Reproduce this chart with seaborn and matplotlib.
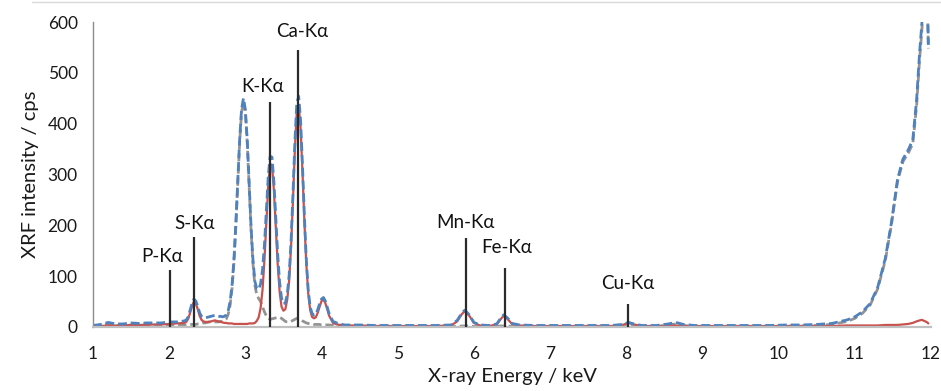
import pandas as pd
import seaborn as sns
import matplotlib.pyplot as plt
from matplotlib.lines import Line2D

# X-ray energy grid (keV)
energy = [
    1.0, 1.1, 1.2, 1.3, 1.4, 1.5, 1.6, 1.7, 1.8, 1.9, 2.0, 2.1,
    2.2, 2.225, 2.25, 2.275, 2.3, 2.325, 2.35, 2.375, 2.4, 2.425,
    2.45, 2.475, 2.5, 2.525, 2.55, 2.575, 2.6, 2.625, 2.65, 2.675,
    2.7, 2.725, 2.75, 2.775, 2.8, 2.825, 2.85, 2.875, 2.9, 2.925,
    2.95, 2.975, 3.0, 3.025, 3.05, 3.075, 3.1, 3.125, 3.15, 3.175,
    3.2, 3.225, 3.25, 3.275, 3.3, 3.325, 3.35, 3.375, 3.4, 3.425,
    3.45, 3.475, 3.5, 3.525, 3.55, 3.575, 3.6, 3.625, 3.65, 3.675,
    3.7, 3.725, 3.75, 3.775, 3.8, 3.825, 3.85, 3.875, 3.9, 3.925,
    3.95, 3.975, 4.0, 4.025, 4.05, 4.075, 4.1, 4.15, 4.2,
    4.3, 4.5, 4.7, 4.9, 5.1, 5.3, 5.5, 5.7,
    5.78, 5.84, 5.88, 5.94, 6.0,
    6.08, 6.2, 6.3, 6.35, 6.39, 6.44, 6.5,
    6.6, 6.8, 7.0, 7.2, 7.4, 7.6, 7.8,
    7.95, 8.03, 8.1,
    8.2, 8.4, 8.55, 8.65, 8.75, 8.9,
    9.1, 9.3, 9.5, 9.7, 9.9, 10.1, 10.3, 10.5, 10.7, 10.9,
    11.0, 11.1, 11.2, 11.3, 11.4, 11.48, 11.56, 11.63, 11.7, 11.76,
    11.81, 11.85, 11.88, 11.91, 11.94, 11.965,
]

# blue dashed spectrum
blue_cps = [
    3, 5, 9, 6, 6, 8, 7, 8, 8, 8, 10, 10,
    12, 14, 20, 33, 46, 55, 51, 41, 28, 21,
    19, 18, 19, 20, 21, 22, 23, 22, 21, 21,
    20, 21, 24, 32, 50, 82, 132, 203, 286, 368,
    428, 450, 428, 368, 282, 197, 132, 90, 75, 74,
    85, 112, 160, 226, 295, 336, 334, 286, 213, 142,
    88, 57, 46, 47, 64, 102, 169, 262, 364, 440,
    454, 407, 318, 218, 133, 74, 40, 27, 23, 25,
    34, 46, 55, 58, 51, 39, 26, 11, 8,
    4, 4, 3, 3, 3, 3, 3, 4,
    13, 27, 33, 24, 9,
    4, 3, 6, 17, 24, 18, 7,
    4, 3, 3, 3, 3, 3, 3,
    5, 9, 6,
    3, 3, 6, 9, 5, 3,
    3, 3, 3, 3, 3, 4, 4, 5, 7, 14,
    20, 30, 46, 78, 135, 205, 290, 330, 348, 368,
    445, 540, 598, 690, 730, 555,
]

# red solid spectrum
red_cps = [
    1, 2, 3, 3, 3, 4, 4, 4, 5, 5, 6, 7,
    8, 10, 16, 28, 41, 50, 46, 35, 22, 14,
    11, 10, 10, 10, 11, 12, 13, 12, 11, 10,
    9, 8, 8, 7, 7, 7, 6, 6, 6, 6,
    6, 6, 6, 6, 7, 7, 7, 8, 12, 19,
    37, 72, 130, 204, 277, 321, 318, 269, 195, 123,
    69, 40, 32, 35, 54, 92, 158, 249, 349, 423,
    437, 392, 306, 208, 125, 67, 34, 20, 17, 19,
    28, 40, 51, 54, 47, 35, 22, 8, 5,
    3, 3, 2, 2, 2, 2, 2, 3,
    11, 25, 31, 22, 8,
    3, 2, 5, 15, 22, 16, 6,
    3, 2, 2, 2, 2, 2, 2,
    4, 8, 5,
    2, 2, 2, 3, 2, 2,
    2, 2, 2, 2, 2, 2, 2, 2, 2, 3,
    3, 3, 3, 3, 4, 4, 4, 5, 6, 8,
    11, 13, 14, 12, 10, 7,
]

# grey dashed spectrum
grey_cps = [
    2, 3, 6, 3, 3, 4, 3, 4, 3, 3, 4, 3,
    4, 4, 4, 5, 5, 5, 5, 6, 6, 7,
    8, 8, 9, 10, 10, 10, 10, 10, 10, 11,
    11, 13, 16, 25, 43, 75, 126, 197, 280, 362,
    422, 444, 422, 362, 275, 190, 125, 82, 63, 56,
    50, 40, 30, 22, 18, 15, 16, 17, 18, 19,
    19, 17, 14, 11, 10, 10, 11, 13, 15, 17,
    17, 15, 12, 10, 8, 7, 6, 6, 5, 5,
    5, 5, 4, 4, 4, 4, 4, 3, 3,
    1, 1, 1, 1, 1, 1, 1, 1,
    1, 2, 2, 2, 1,
    1, 1, 1, 2, 2, 2, 1,
    1, 1, 1, 1, 1, 1, 1,
    1, 1, 1,
    1, 1, 4, 6, 3, 1,
    1, 1, 1, 1, 1, 2, 2, 3, 5, 11,
    17, 27, 43, 75, 131, 201, 286, 325, 342, 360,
    434, 527, 584, 678, 720, 548,
]

# emission line markers
line_names = ['P-Kα', 'S-Kα', 'K-Kα', 'Ca-Kα', 'Mn-Kα', 'Fe-Kα', 'Cu-Kα']
line_energy = [2.01, 2.33, 3.33, 3.69, 5.895, 6.405, 8.025]
line_height = [112, 177, 442, 545, 175, 116, 45]

# label offsets in points (dx, dy) from top of each marker
label_offsets = [(-6, 9.5), (0, 9.5), (-6, 11.5), (3, 13), (0, 11.5), (1.5, 14.5), (0, 15)]

df = pd.DataFrame({'energy': energy, 'blue': blue_cps, 'red': red_cps, 'grey': grey_cps})

sns.set_style('white')
plt.rcParams['font.family'] = ['Lato', 'Open Sans', 'DejaVu Sans']

fig = plt.figure(figsize=(9.41, 3.91), dpi=100)
ax = fig.add_axes([0.0988, 0.1637, 0.8906, 0.780])

sns.lineplot(data=df, x='energy', y='grey', ax=ax, color='#939393', lw=2.0,
             linestyle=(0, (3, 1.4)), estimator=None, sort=False)
sns.lineplot(data=df, x='energy', y='red', ax=ax, color='#c8504d', lw=1.6,
             estimator=None, sort=False)
sns.lineplot(data=df, x='energy', y='blue', ax=ax, color='#4f81bd', lw=2.0,
             linestyle=(0, (3.2, 1.4)), estimator=None, sort=False)

ax.vlines(line_energy, 0, line_height, colors='#2b2b2b', lw=1.6, zorder=5)
for name, x, h, (dx, dy) in zip(line_names, line_energy, line_height, label_offsets):
    ax.annotate(name, (x, h), xytext=(dx, dy), textcoords='offset points',
                ha='center', va='center', fontsize=13.5, color='#111111')

ax.set_xlim(1, 12)
ax.set_ylim(0, 600)
ax.set_xticks(range(1, 13))
ax.set_yticks(range(0, 601, 100))

for side in ['top', 'right']:
    ax.spines[side].set_visible(False)
ax.spines['left'].set_color('#8c8c8c')
ax.spines['left'].set_linewidth(1.0)
ax.spines['bottom'].set_color('#c0c0c0')
ax.spines['bottom'].set_linewidth(1.6)

ax.tick_params(axis='both', direction='out', length=4, width=1, color='#8c8c8c',
               labelsize=12.5, labelcolor='#1a1a1a')
ax.tick_params(axis='y', pad=7)
ax.tick_params(axis='x', pad=10)

ax.set_xlabel('X-ray Energy / keV', fontsize=14.5, color='#1a1a1a', labelpad=4)
ax.set_ylabel('XRF intensity / cps', fontsize=14.5, color='#1a1a1a', labelpad=6)

# thin chart-area border along the top
fig.add_artist(Line2D([0.034, 1.0], [0.996, 0.996], transform=fig.transFigure,
                      color='#d9d9d9', lw=1))

fig.savefig('out.png', dpi=100)
